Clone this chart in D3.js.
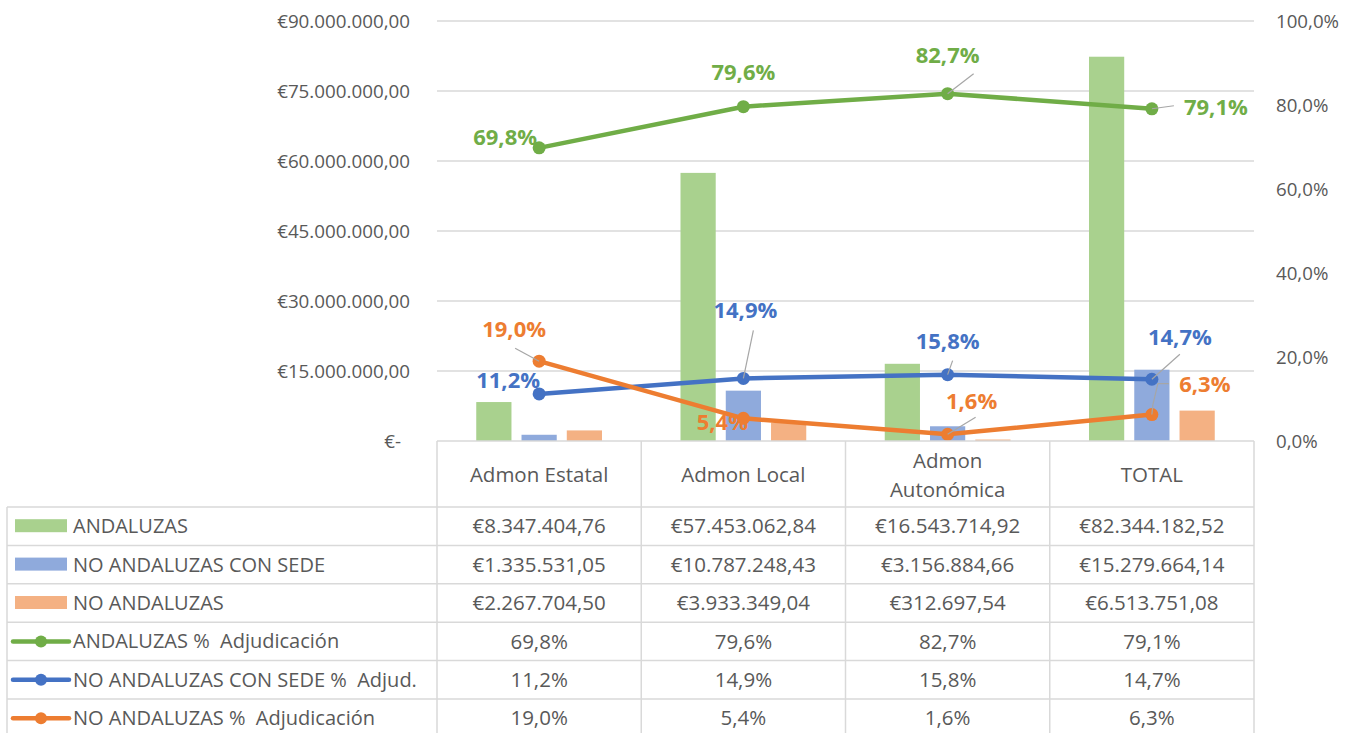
<!DOCTYPE html>
<html>
<head>
<meta charset="utf-8">
<title>Adjudicación por administración</title>
<script src="https://d3js.org/d3.v7.min.js"></script>
<style>
  body { margin: 0; background: #fff; }
  text { font-family: "Open Sans", "Noto Sans", sans-serif; fill: #595959; white-space: pre; }
</style>
</head>
<body>
<div id="chart"></div>
<script>
// data
var categories = ["Admon Estatal", "Admon Local", "Admon Autonómica", "TOTAL"];
var andaluzas = [8347404.76, 57453062.84, 16543714.92, 82344182.52];
var noAndaluzasSede = [1335531.05, 10787248.43, 3156884.66, 15279664.14];
var noAndaluzas = [2267704.50, 3933349.04, 312697.54, 6513751.08];
var pctAndaluzas = [69.8, 79.6, 82.7, 79.1];
var pctSede = [11.2, 14.9, 15.8, 14.7];
var pctNoAndaluzas = [19.0, 5.4, 1.6, 6.3];
var leftTicks = [0, 15000000, 30000000, 45000000, 60000000, 75000000, 90000000];
var rightTicks = [0, 20, 40, 60, 80, 100];

var W = 1352, H = 733;
var plot = {left: 437, right: 1254, top: 21, bottom: 441};

var svg = d3.select("#chart").append("svg")
    .attr("width", W).attr("height", H);

var x = d3.scaleBand().domain(categories).range([plot.left, plot.right]);
var xBar = d3.scaleBand().domain([0, 1, 2]).range([0, x.bandwidth()])
    .paddingInner(0.222).paddingOuter(0.867);
var y = d3.scaleLinear().domain([0, 90000000]).range([plot.bottom, plot.top]);
var y2 = d3.scaleLinear().domain([0, 100]).range([plot.bottom, plot.top]);

// spanish number formatting
var es = d3.formatLocale({decimal: ",", thousands: ".", grouping: [3], currency: ["€", ""]});
var fmtEur = es.format("$,.2f");
var fmtPct = function(v) { return es.format(".1f")(v) + "%"; };

// gridlines
svg.append("g").selectAll("line").data(leftTicks.slice(1)).join("line")
    .attr("x1", plot.left).attr("x2", plot.right)
    .attr("y1", d => y(d)).attr("y2", d => y(d))
    .attr("stroke", "#d9d9d9").attr("stroke-width", 1.3);

// left axis labels
svg.append("g").selectAll("text").data(leftTicks).join("text")
    .attr("x", d => d === 0 ? 401 : 410)
    .attr("y", d => y(d)).attr("dy", "0.35em")
    .attr("text-anchor", "end").style("font-size", "18.8px")
    .text(d => d === 0 ? "€-" : fmtEur(d));

// right axis labels
svg.append("g").selectAll("text").data(rightTicks).join("text")
    .attr("x", 1276).attr("y", d => y2(d)).attr("dy", "0.35em")
    .style("font-size", "18.7px")
    .text(d => fmtPct(d));

// bars
var barSeries = [
  {name: "ANDALUZAS", values: andaluzas, color: "#a9d18e"},
  {name: "NO ANDALUZAS CON SEDE", values: noAndaluzasSede, color: "#8faadc"},
  {name: "NO ANDALUZAS", values: noAndaluzas, color: "#f4b183"}
];
barSeries.forEach(function(s, i) {
  svg.append("g").selectAll("rect").data(s.values).join("rect")
      .attr("x", (d, j) => x(categories[j]) + xBar(i))
      .attr("width", xBar.bandwidth())
      .attr("y", d => y(d))
      .attr("height", d => plot.bottom - y(d))
      .attr("fill", s.color);
});

// lines
var lineSeries = [
  {name: "ANDALUZAS %  Adjudicación", values: pctAndaluzas, color: "#70ad47",
   // label offsets from the point, and leader line start (or null)
   lab: [[-34, -11], [0, -34], [0, -38], [64, -1]],
   lead: [null, null, [26, -20], [22, -3]]},
  {name: "NO ANDALUZAS CON SEDE %  Adjud.", values: pctSede, color: "#4472c4",
   lab: [[-31, -14], [2, -68], [0, -33], [28, -42]],
   lead: [null, [10, -48], [5, -14], [28, -25]]},
  {name: "NO ANDALUZAS %  Adjudicación", values: pctNoAndaluzas, color: "#ed7d31",
   lab: [[-25, -32], [-21, 4], [24, -33], [53, -30]],
   lead: [[-24, -13], null, [28, -17], [[17, -31], [6, -31]]]}
];
var cx = d => x(d) + x.bandwidth() / 2;
var line = d3.line().x(d => cx(d.cat)).y(d => y2(d.v));

lineSeries.forEach(function(s) {
  var pts = s.values.map((v, j) => ({cat: categories[j], v: v, j: j}));
  svg.append("path").datum(pts)
      .attr("d", line).attr("fill", "none")
      .attr("stroke", s.color).attr("stroke-width", 4.5)
      .attr("stroke-linejoin", "round");
  svg.append("g").selectAll("circle").data(pts).join("circle")
      .attr("cx", d => cx(d.cat)).attr("cy", d => y2(d.v))
      .attr("r", 6.5).attr("fill", s.color);
});

// data labels (drawn after all lines)
lineSeries.forEach(function(s) {
  s.values.forEach(function(v, j) {
    var px = cx(categories[j]), py = y2(v);
    var ld = s.lead[j];
    if (ld) {
      var pts = Array.isArray(ld[0]) ? ld : [ld];
      var path = d3.path();
      path.moveTo(px + pts[0][0], py + pts[0][1]);
      pts.slice(1).forEach(p => path.lineTo(px + p[0], py + p[1]));
      if (pts.length > 1) path.lineTo(px + 1, py - 10);
      path.lineTo(px, py);
      svg.append("path").attr("d", path.toString())
          .attr("fill", "none").attr("stroke", "#a6a6a6").attr("stroke-width", 1.2);
    }
    svg.append("text")
        .attr("x", px + s.lab[j][0]).attr("y", py + s.lab[j][1])
        .attr("dy", "0.35em").attr("text-anchor", "middle")
        .style("font-size", "22px").style("font-weight", "bold")
        .style("fill", s.color)
        .text(fmtPct(v));
  });
});

// data table
var tbl = {left: 7, headTop: 441, headBottom: 507, rowH: 38.4};
var rows = barSeries.concat(lineSeries);
var tg = svg.append("g");
var border = "#d9d9d9";

// header row (categories)
tg.append("line").attr("x1", plot.left).attr("x2", plot.right)
    .attr("y1", tbl.headTop).attr("y2", tbl.headTop)
    .attr("stroke", border).attr("stroke-width", 1.5);
categories.forEach(function(c, j) {
  var xc = cx(c);
  var lines = c === "Admon Autonómica" ? ["Admon", "Autonómica"] : [c];
  lines.forEach(function(t, k) {
    tg.append("text").attr("x", xc)
        .attr("y", (tbl.headTop + tbl.headBottom) / 2 + 1 + (k - (lines.length - 1) / 2) * 29)
        .attr("dy", "0.35em").attr("text-anchor", "middle")
        .style("font-size", "20.5px").text(t);
  });
});

// horizontal row lines
for (var r = 0; r <= rows.length; r++) {
  var yy = tbl.headBottom + r * tbl.rowH;
  tg.append("line").attr("x1", tbl.left).attr("x2", plot.right)
      .attr("y1", yy).attr("y2", yy)
      .attr("stroke", border).attr("stroke-width", 1.5);
}
// vertical lines
tg.append("line").attr("x1", tbl.left).attr("x2", tbl.left)
    .attr("y1", tbl.headBottom).attr("y2", H)
    .attr("stroke", border).attr("stroke-width", 1.5);
categories.concat(["end"]).forEach(function(c, j) {
  var xx = plot.left + j * x.step();
  tg.append("line").attr("x1", xx).attr("x2", xx)
      .attr("y1", tbl.headTop).attr("y2", H)
      .attr("stroke", border).attr("stroke-width", 1.5);
});

// row contents
rows.forEach(function(s, r) {
  var ym = tbl.headBottom + (r + 0.5) * tbl.rowH;
  if (r < 3) {
    tg.append("rect").attr("x", 15).attr("y", ym - 7).attr("width", 52).attr("height", 13)
        .attr("fill", s.color);
  } else {
    tg.append("line").attr("x1", 13).attr("x2", 69).attr("y1", ym).attr("y2", ym)
        .attr("stroke", s.color).attr("stroke-width", 4.5).attr("stroke-linecap", "round");
    tg.append("circle").attr("cx", 41).attr("cy", ym).attr("r", 6).attr("fill", s.color);
  }
  tg.append("text").attr("x", 73).attr("y", ym).attr("dy", "0.35em")
      .style("font-size", "20px").text(s.name);
  s.values.forEach(function(v, j) {
    tg.append("text").attr("x", cx(categories[j])).attr("y", ym).attr("dy", "0.35em")
        .attr("text-anchor", "middle").style("font-size", "20.5px")
        .text(r < 3 ? fmtEur(v) : fmtPct(v));
  });
});
</script>
</body>
</html>
